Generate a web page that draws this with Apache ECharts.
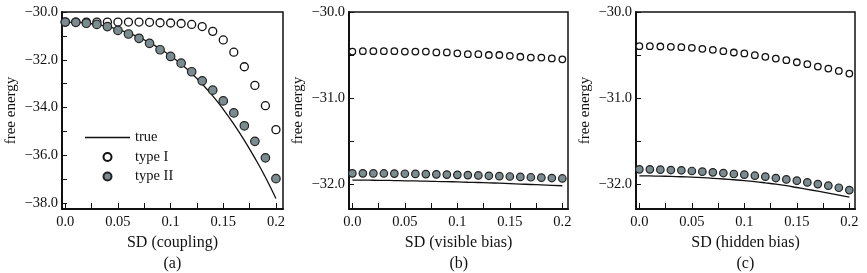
<!DOCTYPE html>
<html>
<head>
<meta charset="utf-8">
<script src="https://cdn.jsdelivr.net/npm/echarts@6/dist/echarts.min.js"></script>
<style>html,body{margin:0;padding:0;background:#fff;}#c{width:867px;height:273px;}</style>
</head>
<body>
<div id="c"></div>
<script>
// ---- data ----
const sd = [0, 0.01, 0.02, 0.03, 0.04, 0.05, 0.06, 0.07, 0.08, 0.09, 0.1, 0.11, 0.12, 0.13, 0.14, 0.15, 0.16, 0.17, 0.18, 0.19, 0.2];

// panel (a) SD (coupling)
const aTrue  = [-30.42, -30.43, -30.46, -30.52, -30.61, -30.73, -30.88, -31.06, -31.28, -31.54, -31.84, -32.18, -32.57, -33.01, -33.51, -34.07, -34.69, -35.37, -36.11, -36.91, -37.80];
const aTypeI = [-30.42, -30.42, -30.42, -30.42, -30.42, -30.42, -30.42, -30.42, -30.43, -30.45, -30.46, -30.48, -30.52, -30.61, -30.81, -31.17, -31.68, -32.29, -33.07, -33.92, -34.92];
const aTypeII = [-30.42, -30.43, -30.47, -30.52, -30.61, -30.77, -30.92, -31.10, -31.31, -31.58, -31.86, -32.14, -32.50, -32.88, -33.27, -33.72, -34.22, -34.76, -35.41, -36.10, -36.97];

// panel (b) SD (visible bias)
const bTrue  = [-31.955, -31.955, -31.956, -31.957, -31.959, -31.962, -31.964, -31.967, -31.970, -31.972, -31.975, -31.979, -31.982, -31.986, -31.990, -31.995, -32.000, -32.005, -32.010, -32.015, -32.020];
const bTypeI = [-30.46, -30.455, -30.455, -30.455, -30.455, -30.46, -30.46, -30.46, -30.47, -30.47, -30.48, -30.49, -30.49, -30.50, -30.50, -30.51, -30.52, -30.53, -30.53, -30.54, -30.55];
const bTypeII = [-31.875, -31.875, -31.876, -31.877, -31.878, -31.880, -31.882, -31.884, -31.887, -31.890, -31.893, -31.896, -31.900, -31.904, -31.908, -31.912, -31.917, -31.921, -31.926, -31.930, -31.935];

// panel (c) SD (hidden bias)
const cTrue  = [-31.905, -31.906, -31.908, -31.911, -31.915, -31.920, -31.926, -31.933, -31.941, -31.950, -31.960, -31.972, -31.986, -32.001, -32.019, -32.040, -32.061, -32.083, -32.105, -32.128, -32.152];
const cTypeI = [-30.397, -30.397, -30.401, -30.405, -30.409, -30.416, -30.428, -30.440, -30.455, -30.471, -30.482, -30.502, -30.521, -30.541, -30.560, -30.584, -30.607, -30.634, -30.658, -30.685, -30.716];
const cTypeII = [-31.829, -31.829, -31.833, -31.837, -31.840, -31.848, -31.856, -31.864, -31.872, -31.883, -31.891, -31.903, -31.914, -31.930, -31.946, -31.961, -31.981, -32.000, -32.019, -32.043, -32.070];

// tick labels
const xTickValues = [0, 0.05, 0.1, 0.15, 0.2];
const xTickLabels = ['0.0', '0.05', '0.1', '0.15', '0.2'];
const xMinorTicks = [0, 0.025, 0.05, 0.075, 0.1, 0.125, 0.15, 0.175, 0.2];
const aYTickValues = [-30, -32, -34, -36, -38];
const aYTickLabels = ['\u221230.0', '\u221232.0', '\u221234.0', '\u221236.0', '\u221238.0'];
const aYMinorTicks = [-30, -31, -32, -33, -34, -35, -36, -37, -38];
const bcYTickValues = [-30, -31, -32];
const bcYTickLabels = ['\u221230.0', '\u221231.0', '\u221232.0'];
const bcYMinorTicks = [-30, -30.5, -31, -31.5, -32];

const xNames = ['SD (coupling)', 'SD (visible bias)', 'SD (hidden bias)'];
const panelLabels = ['(a)', '(b)', '(c)'];
const seriesNames = ['true', 'type I', 'type II'];

// ---- chart ----
const FONT = 'Liberation Serif';
const chart = echarts.init(document.getElementById('c'), null, {renderer: 'canvas'});

const grids = [
  {left: 62, top: 12, width: 221, height: 197},
  {left: 349, top: 12, width: 219, height: 197},
  {left: 636, top: 12, width: 219, height: 197}
];
const xRanges = [[-0.0031, 0.2067], [-0.0032, 0.2054], [-0.0032, 0.2054]];
const yRanges = [[-38.24, -30], [-32.29, -30], [-32.29, -30]];
const yTickVals = [aYTickValues, bcYTickValues, bcYTickValues];
const yTickLabs = [aYTickLabels, bcYTickLabels, bcYTickLabels];
const yMinor = [aYMinorTicks, bcYMinorTicks, bcYMinorTicks];

function lookup(vals, labs, v) {
  let best = 0;
  for (let i = 1; i < vals.length; i++) if (Math.abs(vals[i] - v) < Math.abs(vals[best] - v)) best = i;
  return labs[best];
}

const xAxis = [], yAxis = [], series = [];
const dataSets = [[aTrue, aTypeI, aTypeII], [bTrue, bTypeI, bTypeII], [cTrue, cTypeI, cTypeII]];
const openSize = [8, 6.5, 6.5];
const fillSize = [8.5, 7.5, 7.5];

for (let p = 0; p < 3; p++) {
  xAxis.push({
    type: 'value', gridIndex: p, min: xRanges[p][0], max: xRanges[p][1],
    name: xNames[p], nameLocation: 'middle', nameGap: 19,
    nameTextStyle: {fontFamily: FONT, fontSize: 16, color: '#111'},
    axisLine: {show: true, onZero: false, lineStyle: {color: '#111', width: 2}},
    axisTick: {show: true, inside: true, length: 6, customValues: xMinorTicks, lineStyle: {color: '#111', width: 1}},
    axisLabel: {customValues: xTickValues, fontFamily: FONT, fontSize: 14.5, color: '#111', margin: 6,
      formatter: v => lookup(xTickValues, xTickLabels, v)},
    splitLine: {show: false}
  });
  yAxis.push({
    type: 'value', gridIndex: p, min: yRanges[p][0], max: yRanges[p][1],
    name: 'free energy', nameLocation: 'middle', nameGap: 43, nameRotate: 90,
    nameTextStyle: {fontFamily: FONT, fontSize: 15, color: '#111'},
    axisLine: {show: true, onZero: false, lineStyle: {color: '#111', width: 2}},
    axisTick: {show: true, inside: true, length: 5, customValues: yMinor[p], lineStyle: {color: '#111', width: 1}},
    axisLabel: {customValues: yTickVals[p], fontFamily: FONT, fontSize: 14.5, color: '#111', margin: 4,
      formatter: v => lookup(yTickVals[p], yTickLabs[p], v)},
    splitLine: {show: false}
  });
  const [tr, t1, t2] = dataSets[p];
  series.push({
    name: seriesNames[0], type: 'line', xAxisIndex: p, yAxisIndex: p, symbol: 'none', smooth: true,
    lineStyle: {color: '#111', width: 1.3}, itemStyle: {color: '#111'},
    data: sd.map((x, i) => [x, tr[i]]), z: 2
  });
  series.push({
    name: seriesNames[1], type: 'scatter', xAxisIndex: p, yAxisIndex: p, symbol: 'circle', symbolSize: openSize[p],
    itemStyle: {color: '#ffffff', borderColor: '#111', borderWidth: 1.3, opacity: 1},
    data: sd.map((x, i) => [x, t1[i]]), z: 3
  });
  series.push({
    name: seriesNames[2], type: 'scatter', xAxisIndex: p, yAxisIndex: p, symbol: 'circle', symbolSize: fillSize[p],
    itemStyle: {color: '#7b8c91', borderColor: '#222', borderWidth: 1.2, opacity: 1},
    data: sd.map((x, i) => [x, t2[i]]), z: 3
  });
}

const graphic = panelLabels.map((t, p) => ({
  type: 'text', left: grids[p].left + grids[p].width / 2 - 9, top: 256,
  style: {text: t, font: '16px "' + FONT + '"', fill: '#111'}
}));

chart.setOption({
  animation: false,
  backgroundColor: '#fff',
  grid: grids.map(g => Object.assign({show: true, borderColor: '#111', borderWidth: 1.5, backgroundColor: 'transparent'}, g)),
  xAxis, yAxis, series, graphic,
  legend: {
    data: [
      {name: seriesNames[0], icon: 'path://M0,0 L45,0 L45,1.3 L0,1.3 Z'},
      {name: seriesNames[1]},
      {name: seriesNames[2]}
    ],
    left: 85, top: 130, padding: 0, orient: 'vertical',
    itemWidth: 45, itemHeight: 8, itemGap: 4.5,
    textStyle: {fontFamily: FONT, fontSize: 14.5, color: '#111'},
    selectedMode: false
  }
});
</script>
</body>
</html>
